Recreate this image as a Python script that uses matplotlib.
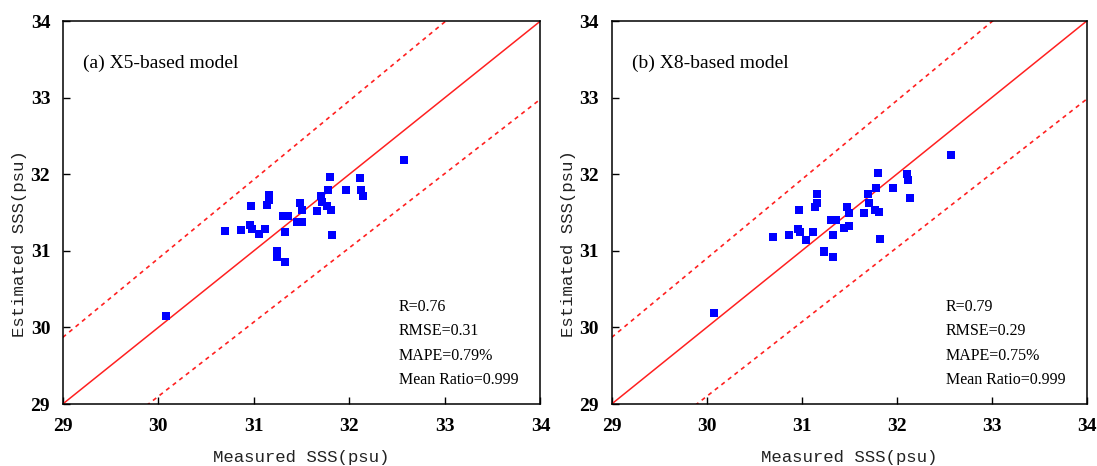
import numpy as np
import matplotlib
matplotlib.use('Agg')
import matplotlib.pyplot as plt

# measured SSS (shared by both panels)
measured = [30.70, 30.87, 30.96, 30.98, 31.05, 31.12, 30.97, 31.14, 31.16, 31.16,
            31.31, 31.36, 31.33, 31.24, 31.24, 31.33, 31.45, 31.50, 31.48, 31.50,
            31.66, 31.70, 31.71, 31.78, 31.80, 31.77, 31.81, 31.82, 31.96, 32.11,
            32.12, 32.14, 32.57, 30.08]

# estimated SSS, X5-based model
est_x5 = [31.26, 31.27, 31.34, 31.29, 31.22, 31.29, 31.58, 31.60, 31.66, 31.73,
          31.45, 31.45, 31.24, 31.00, 30.92, 30.85, 31.37, 31.38, 31.63, 31.53,
          31.52, 31.72, 31.64, 31.79, 31.97, 31.58, 31.53, 31.21, 31.79, 31.95,
          31.80, 31.71, 32.18, 30.15]

# estimated SSS, X8-based model
est_x8 = [31.18, 31.20, 31.29, 31.24, 31.14, 31.24, 31.53, 31.57, 31.62, 31.74,
          31.40, 31.40, 31.20, 31.00, 30.99, 30.92, 31.30, 31.32, 31.57, 31.50,
          31.50, 31.74, 31.62, 31.82, 32.02, 31.53, 31.51, 31.15, 31.82, 32.00,
          31.92, 31.69, 32.25, 30.19]

panel_titles = ['(a) X5-based model', '(b) X8-based model']
stats = [['R=0.76', 'RMSE=0.31', 'MAPE=0.79%', 'Mean Ratio=0.999'],
         ['R=0.79', 'RMSE=0.29', 'MAPE=0.75%', 'Mean Ratio=0.999']]
ticks = [29, 30, 31, 32, 33, 34]

fig = plt.figure(figsize=(10.97, 4.66), dpi=100)
fig.set_facecolor('white')
ax_a = fig.add_axes([0.0572, 0.1330, 0.4355, 0.8219])
ax_b = fig.add_axes([0.5576, 0.1330, 0.4330, 0.8219])

label_font = {'family': 'Liberation Mono', 'size': 12.5, 'color': '#222222'}
line = np.array([29, 34])

for ax, est, title, st in zip([ax_a, ax_b], [est_x5, est_x8], panel_titles, stats):
    # 1:1 line and +-3% lines
    ax.plot(line, line, color='#ff2020', lw=1.1, zorder=2)
    ax.plot(line, line * 1.03, color='#ff2020', lw=1.2, ls=(0, (2.5, 2.5)), zorder=2)
    ax.plot(line, line * 0.97, color='#ff2020', lw=1.2, ls=(0, (2.5, 2.5)), zorder=2)
    ax.scatter(measured, est, marker='s', s=36, color='#0000ff', linewidths=0, zorder=3)

    ax.set_xlim(29, 34)
    ax.set_ylim(29, 34)
    ax.set_xticks(ticks)
    ax.set_yticks(ticks)
    ax.tick_params(direction='in', length=5, width=1, top=False, right=False)
    ax.tick_params(axis='x', pad=10)
    ax.tick_params(axis='y', pad=9)
    for lab in ax.get_xticklabels() + ax.get_yticklabels():
        lab.set_fontfamily('Liberation Serif')
        lab.set_fontweight('bold')
        lab.set_fontsize(14)
    for sp in ax.spines.values():
        sp.set_linewidth(1.1)

    ax.set_xlabel('Measured SSS(psu)', fontdict=label_font, labelpad=11)
    ax.set_ylabel('Estimated SSS(psu)', fontdict=label_font, labelpad=5)
    ax.yaxis.set_label_coords(-0.075, 0.42)

    ax.text(29.21, 33.45, title, family='Liberation Serif', fontsize=14, va='center')
    for k, s in enumerate(st):
        ax.text(32.52, 30.27 - k * 0.32, s, family='Liberation Serif', fontsize=11.5,
                va='center')

fig.savefig('out.png', dpi=100, facecolor='white')
